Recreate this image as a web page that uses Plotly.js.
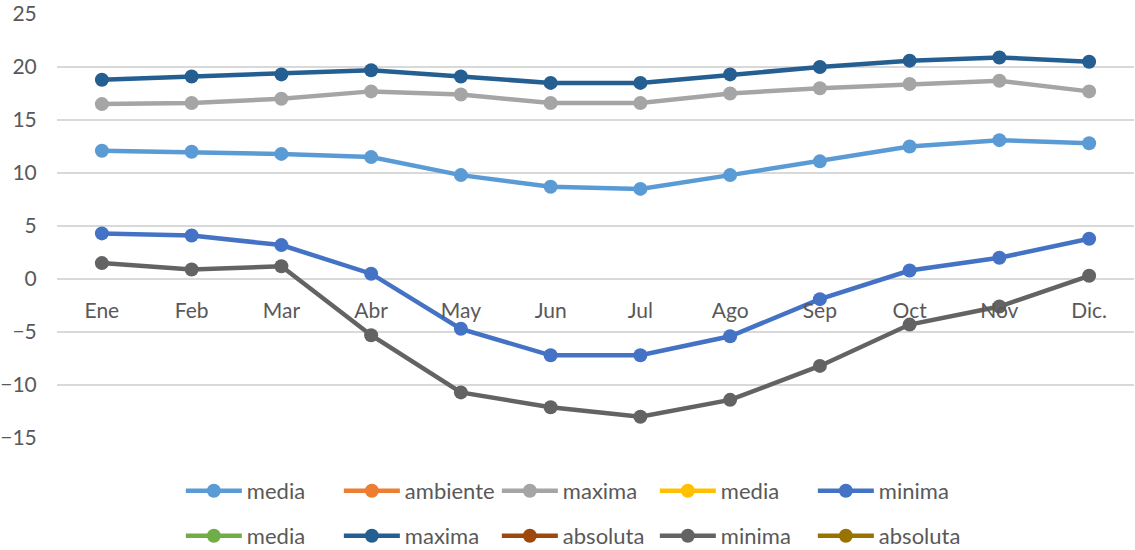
<!DOCTYPE html>
<html><head><meta charset="utf-8">
<script src="https://cdn.plot.ly/plotly-3.0.1.min.js"></script>
<style>body{margin:0;background:#fff}#chart{width:1135px;height:550px}</style>
</head><body><div id="chart"></div>
<script>
var months = ["Ene","Feb","Mar","Abr","May","Jun","Jul","Ago","Sep","Oct","Nov","Dic."];
var mediaAmbiente = [12.1,12.0,11.8,11.5,9.8,8.7,8.5,9.8,11.1,12.5,13.1,12.8];
var maximaMedia = [16.5,16.6,17.0,17.7,17.4,16.6,16.6,17.5,18.0,18.4,18.7,17.7];
var minimaMedia = [4.3,4.1,3.2,0.5,-4.7,-7.2,-7.2,-5.4,-1.9,0.8,2.0,3.8];
var maximaAbsoluta = [18.8,19.1,19.3,19.7,19.1,18.5,18.5,19.3,20.0,20.6,20.9,20.5];
var minimaAbsoluta = [1.5,0.9,1.2,-5.3,-10.7,-12.1,-13.0,-11.4,-8.2,-4.3,-2.6,0.3];
var emptySeries = [null,null,null,null,null,null,null,null,null,null,null,null];
var seriesNames = ["media","ambiente","maxima","media","minima","media","maxima","absoluta","minima","absoluta"];
var seriesValues = [mediaAmbiente,emptySeries,maximaMedia,emptySeries,minimaMedia,emptySeries,maximaAbsoluta,emptySeries,minimaAbsoluta,emptySeries];
var seriesColors = ["#5B9BD5","#ED7D31","#A5A5A5","#FFC000","#4472C4","#70AD47","#255E91","#9E480E","#636363","#997300"];
var yMin = -15, yMax = 25;

var FONT = "Lato, 'Open Sans', sans-serif";
var traces = seriesNames.map(function(n,i){
  return {
    type:"scatter", mode:"lines+markers", name:n, x:months, y:seriesValues[i],
    line:{color:seriesColors[i], width:4.5},
    marker:{color:seriesColors[i], size:14},
    legend: i<5 ? "legend" : "legend2",
    hoverinfo:"skip", cliponaxis:false
  };
});
var legendBase = {orientation:"h", xanchor:"left", yanchor:"middle", x:0.115, yref:"container",
  font:{family:FONT, size:22, color:"#595959"}, itemwidth:56,
  entrywidth:87, entrywidthmode:"pixels", bgcolor:"rgba(0,0,0,0)", tracegroupgap:0};
var layout = {
  width:1135, height:550,
  margin:{l:57, r:1, t:14, b:112, autoexpand:false},
  paper_bgcolor:"#fff", plot_bgcolor:"#fff",
  font:{family:FONT, color:"#595959"},
  showlegend:true,
  legend: Object.assign({}, legendBase, {y:1-491/550}),
  legend2: Object.assign({}, legendBase, {y:1-536/550}),
  xaxis:{type:"category", range:[-0.5,11.5], showgrid:false, showline:false, zeroline:false,
    anchor:"free", position:(0-yMin)/(yMax-yMin),
    ticks:"outside", ticklen:13, tickcolor:"rgba(0,0,0,0)",
    tickfont:{family:FONT, size:21, color:"#595959"}, fixedrange:true},
  yaxis:{range:[yMin,yMax], dtick:5, tick0:0, showgrid:true, gridcolor:"#D9D9D9", gridwidth:1.5,
    zeroline:false, showline:false, ticks:"outside", ticklen:15, tickcolor:"rgba(0,0,0,0)",
    tickfont:{family:FONT, size:21, color:"#595959"}, fixedrange:true}
};
Plotly.newPlot("chart", traces, layout, {staticPlot:true, displayModeBar:false});
</script></body></html>
